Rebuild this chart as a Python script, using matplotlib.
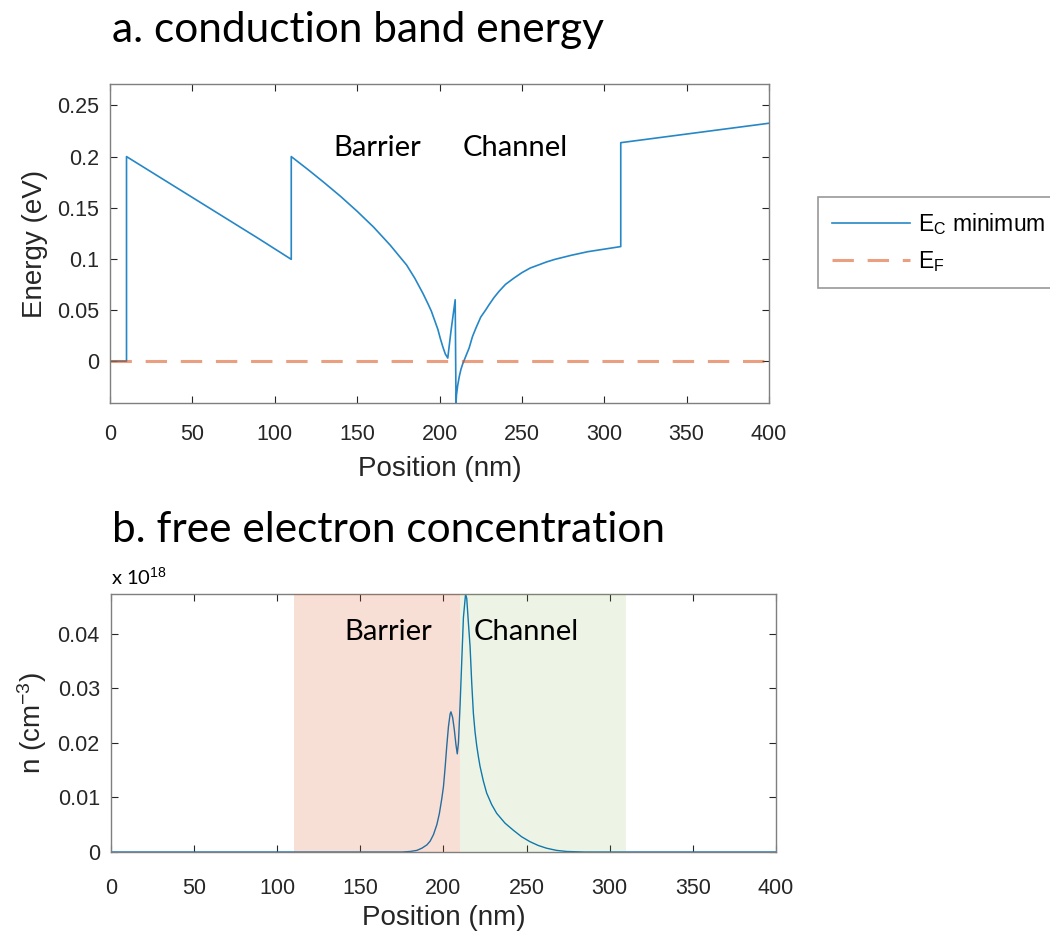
import matplotlib
matplotlib.use("Agg")
import matplotlib.pyplot as plt
from matplotlib.ticker import FuncFormatter

# ---------------- data ----------------
# conduction band minimum (eV) vs position (nm)
ec_pos = [0, 10, 10, 30, 50, 70, 90, 110, 110,
          120, 130, 140, 150, 160, 170, 180, 185, 190, 193, 195, 197, 199, 200.5, 202, 203.5, 205,
          207, 209.5, 210,
          210.3, 211, 212, 213, 214, 215, 216, 218, 220, 222, 225, 228, 230, 233, 236, 240,
          245, 250, 255, 260, 265, 270, 280, 290, 300, 310, 310, 400]
ec_val = [0, 0, 0.200, 0.180, 0.160, 0.140, 0.120, 0.0995, 0.200,
          0.1875, 0.1745, 0.161, 0.1465, 0.131, 0.1135, 0.094, 0.081, 0.066, 0.056, 0.049, 0.040, 0.031,
          0.022, 0.014, 0.007, 0.003,
          0.030, 0.060, -0.041,
          -0.033, -0.024, -0.015, -0.008, -0.003, 0.001, 0.005, 0.013, 0.024, 0.032, 0.043, 0.050, 0.055,
          0.062, 0.068, 0.075,
          0.081, 0.0865, 0.091, 0.094, 0.097, 0.0995, 0.1035, 0.107, 0.1095, 0.112, 0.2136, 0.2326]

# Fermi level
ef_pos = [0, 400]
ef_val = [0, 0]

# free electron concentration (x 1e18 cm^-3)
n_pos = [0, 175, 180, 184, 187, 190, 192, 194, 196, 197.5, 199, 200, 201, 202, 203, 204, 204.5,
         205.5, 206.5, 207.5, 208.3,
         209, 210, 211, 212, 213.3, 214, 215, 216, 217, 218, 219, 220, 221, 222, 224, 226, 229, 232,
         237, 242, 247, 252, 257, 262, 268, 274, 285, 400]
n_val = [0, 0, 0.0001, 0.0003, 0.0007, 0.0013, 0.0020, 0.0032, 0.0050, 0.0070, 0.0098, 0.012,
         0.0155, 0.0195, 0.023, 0.0253, 0.0257,
         0.0247, 0.0225, 0.0197, 0.018,
         0.020, 0.027, 0.035, 0.043, 0.0473, 0.0465, 0.042, 0.0377, 0.031, 0.0254, 0.022, 0.0195,
         0.0175, 0.0157, 0.0130, 0.0108, 0.0087, 0.0071,
         0.0053, 0.0040, 0.0028, 0.0019, 0.0012, 0.0007, 0.0003, 0.0001, 0, 0]

barrier_span = [110, 210]
channel_span = [210, 310]

xticks = [0, 50, 100, 150, 200, 250, 300, 350, 400]
yticks_top = [0, 0.05, 0.1, 0.15, 0.2, 0.25]
yticks_bot = [0, 0.01, 0.02, 0.03, 0.04]

# ---------------- style ----------------
BLUE = "#0072BD"
ORANGE = "#D95319"
GREEN = "#77AC30"
AXC = "#262626"
ANNFONT = "Lato"

plt.rcParams["font.family"] = ["Liberation Sans", "DejaVu Sans"]
plt.rcParams["mathtext.fontset"] = "custom"
plt.rcParams["mathtext.rm"] = "Liberation Sans"
plt.rcParams["mathtext.it"] = "Liberation Sans"

fig = plt.figure(figsize=(10.5, 9.33), dpi=100)

def style_axes(ax):
    for s in ax.spines.values():
        s.set_color("#7f7f7f")
        s.set_linewidth(1.0)
    ax.tick_params(direction="in", top=True, right=True, length=5, width=0.8,
                   color="#262626", labelsize=15.5, labelcolor=AXC)
    ax.tick_params(axis="x", pad=15)
    ax.tick_params(axis="y", pad=8)
    ax.yaxis.set_major_formatter(FuncFormatter(lambda v, p: "%g" % round(v, 4)))

# ---------------- top: conduction band ----------------
ax1 = fig.add_axes([0.1048, 0.568, 0.6276, 0.342])
l1, = ax1.plot(ec_pos, ec_val, color=BLUE, lw=1.2, alpha=0.85,
               label=r"E$_\mathregular{C}$ minimum")
l2, = ax1.plot(ef_pos, ef_val, color=ORANGE, lw=2.2, alpha=0.55, linestyle=(0, (7, 4.5)),
               label=r"E$_\mathregular{F}$")
ax1.set_xlim(0, 400)
ax1.set_ylim(-0.041, 0.271)
ax1.set_xticks(xticks)
ax1.set_yticks(yticks_top)
style_axes(ax1)
ax1.set_xlabel("Position (nm)", fontsize=20, color=AXC, labelpad=8)
ax1.set_ylabel("Energy (eV)", fontsize=20, color=AXC, labelpad=6)
ax1.text(162, 0.208, "Barrier", family=ANNFONT, fontsize=21, ha="center", va="center")
ax1.text(246, 0.208, "Channel", family=ANNFONT, fontsize=21, ha="center", va="center")

leg = ax1.legend(handles=[l1, l2], loc="upper left", bbox_to_anchor=(818 / 1050, 1 - 197 / 933),
                 bbox_transform=fig.transFigure, borderaxespad=0, fontsize=16.5, frameon=True,
                 fancybox=False, edgecolor="#7f7f7f", handlelength=3.4, handletextpad=0.35,
                 borderpad=0.6, labelspacing=0.55)
leg.get_frame().set_linewidth(1.2)

# ---------------- bottom: electron concentration ----------------
ax2 = fig.add_axes([0.1057, 0.0868, 0.6333, 0.2765])
ax2.plot(n_pos, n_val, color=BLUE, lw=1.0, zorder=2)
ax2.axvspan(barrier_span[0], barrier_span[1], color=ORANGE, alpha=0.18, lw=0, zorder=3)
ax2.axvspan(channel_span[0], channel_span[1], color=GREEN, alpha=0.12, lw=0, zorder=3)
ax2.set_xlim(0, 400)
ax2.set_ylim(0, max(n_val))
ax2.set_xticks(xticks)
ax2.set_yticks(yticks_bot)
style_axes(ax2)
ax2.tick_params(axis="x", pad=19)
ax2.set_xlabel("Position (nm)", fontsize=20, color=AXC, labelpad=4)
ax2.set_ylabel(r"n (cm$^{-3}$)", fontsize=20, color=AXC, labelpad=6)
ax2.text(166.6, 0.0404, "Barrier", family=ANNFONT, fontsize=21, ha="center", va="center", zorder=5)
ax2.text(249.6, 0.0404, "Channel", family=ANNFONT, fontsize=21, ha="center", va="center", zorder=5)

# ---------------- titles ----------------
fig.text(112 / 1050, 1 - 30 / 933, "a. conduction band energy", family=ANNFONT, fontsize=30.5,
         ha="left", va="center")
fig.text(112 / 1050, 1 - 530 / 933, "b. free electron concentration", family=ANNFONT, fontsize=30.5,
         ha="left", va="center")
fig.text(111 / 1050, 1 - 577 / 933, r"x 10$^{18}$", family=ANNFONT, fontsize=14.5,
         ha="left", va="center")

fig.savefig("out.png", dpi=100)
